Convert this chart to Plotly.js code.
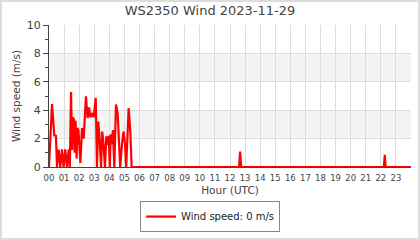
<!DOCTYPE html>
<html>
<head>
<meta charset="utf-8">
<script src="https://cdn.plot.ly/plotly-3.0.1.min.js"></script>
<style>
  html, body { margin: 0; padding: 0; background: #fff; }
  #wrap { position: relative; width: 420px; height: 240px; }
  #chart { width: 420px; height: 240px; }
  #frame { position: absolute; left: 0; top: 0; width: 420px; height: 240px; box-sizing: border-box; border: 2px solid #dddddd; pointer-events: none; }
</style>
</head>
<body>
<div id="wrap"><div id="chart"></div><div id="frame"></div></div>
<script>
// Time of day in hours (UTC)
const hours = [
  0.00, 0.20, 0.35, 0.46, 0.53, 0.64, 0.75, 0.86, 0.97, 1.08, 1.19, 1.31, 1.38,
  1.46, 1.53, 1.59, 1.66, 1.70, 1.76, 1.83, 1.88, 1.95, 2.08, 2.19, 2.30, 2.45,
  2.56, 2.65, 2.74, 2.87, 2.96, 3.10, 3.18, 3.27, 3.36, 3.45, 3.53, 3.62, 3.71,
  3.80, 3.89, 3.96, 4.03, 4.09, 4.16, 4.24, 4.33, 4.44, 4.55, 4.66, 4.72, 4.86,
  4.95, 5.04, 5.12, 5.28, 5.39, 5.48, 6.00, 8.00, 10.00, 12.60, 12.67, 12.74,
  15.00, 18.00, 22.20, 22.26, 22.32, 23.98
];
// Wind speed (m/s)
const speeds = [
  0.00, 4.43, 2.23, 2.20, 0.00, 1.22, 0.00, 1.25, 0.00, 1.25, 0.00, 1.25, 0.00,
  5.28, 1.20, 3.50, 3.30, 1.00, 3.25, 0.60, 2.75, 2.60, 0.28, 2.75, 2.00, 4.98,
  3.45, 4.20, 3.50, 3.80, 3.50, 4.86, 0.00, 3.20, 1.92, 0.00, 2.50, 1.57, 0.00,
  2.16, 1.57, 2.20, 0.00, 2.30, 1.60, 2.60, 0.00, 4.40, 3.80, 1.60, 0.00, 1.86,
  2.50, 1.60, 0.00, 4.15, 2.50, 0.00, 0.00, 0.00, 0.00, 0.00, 1.08, 0.00,
  0.00, 0.00, 0.00, 0.85, 0.00, 0.00
];
const tickHours = [0,1,2,3,4,5,6,7,8,9,10,11,12,13,14,15,16,17,18,19,20,21,22,23];
const tickLabels = ["00","01","02","03","04","05","06","07","08","09","10","11",
                    "12","13","14","15","16","17","18","19","20","21","22","23"];
const bandRanges = [[2,4],[6,8]];
const currentSpeed = 0;

const font = "DejaVu Sans, sans-serif";

const trace = {
  x: hours, y: speeds, type: "scatter", mode: "lines",
  name: "Wind speed: " + currentSpeed + " m/s",
  line: { color: "#ff0000", width: 2.2 },
  hoverinfo: "skip"
};

const shapes = bandRanges.map(r => ({
  type: "rect", xref: "paper", yref: "y", x0: 0, x1: 1, y0: r[0], y1: r[1],
  fillcolor: "#f4f4f4", line: { width: 0 }, layer: "below"
}));

const layout = {
  width: 420, height: 240,
  margin: { l: 49, r: 9, t: 25, b: 73, autoexpand: false },
  paper_bgcolor: "#ffffff", plot_bgcolor: "#ffffff",
  font: { family: font, color: "#444444", size: 10 },
  title: { text: "WS2350 Wind 2023-11-29", font: { family: font, size: 13, color: "#444444" },
           x: 0.5, xanchor: "center", y: 0.955, yanchor: "middle" },
  xaxis: {
    range: [0, 24], tickvals: tickHours, ticktext: tickLabels,
    tickfont: { family: font, size: 8.5, color: "#444444" },
    showgrid: true, gridcolor: "#dddddd", gridwidth: 1,
    zeroline: false, showline: true, linecolor: "#444444", linewidth: 1,
    ticks: "", ticklabelstandoff: 3, fixedrange: true, automargin: false,
    title: { text: "Hour (UTC)", font: { family: font, size: 10.5, color: "#444444" }, standoff: 4 }
  },
  yaxis: {
    range: [0, 10], dtick: 2, tick0: 0,
    tickfont: { family: font, size: 11, color: "#444444" },
    showgrid: true, gridcolor: "#dddddd", gridwidth: 1,
    zeroline: false, showline: true, linecolor: "#444444", linewidth: 1,
    ticks: "outside", ticklen: 5, tickcolor: "#444444",
    minor: { dtick: 1, ticks: "outside", ticklen: 3, tickcolor: "#444444", showgrid: false },
    fixedrange: true, automargin: false,
    title: { text: "Wind speed (m/s)", font: { family: font, size: 10.5, color: "#444444" }, standoff: 4 }
  },
  shapes: shapes,
  showlegend: true,
  legend: {
    orientation: "h", x: 0.445, xanchor: "center", y: -0.24, yanchor: "top",
    bordercolor: "#888888", borderwidth: 1, bgcolor: "#ffffff",
    font: { family: font, size: 10, color: "#222222" }
  }
};

Plotly.newPlot("chart", [trace], layout, { displayModeBar: false, staticPlot: true });
</script>
</body>
</html>
